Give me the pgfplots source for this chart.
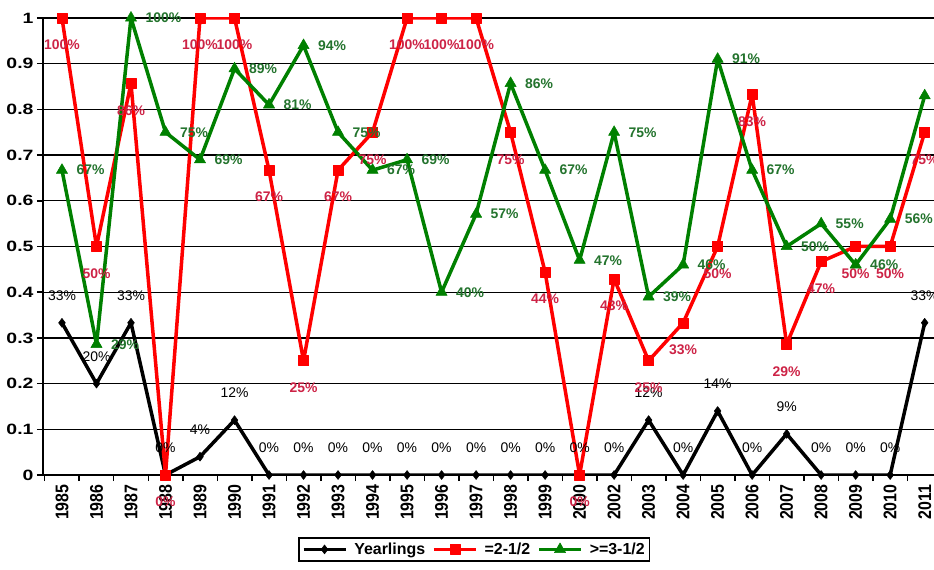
\documentclass[border=0pt]{standalone}
\usepackage{fontspec}
\setmainfont{Liberation Sans}
\newfontfamily\widefont{Liberation Sans}[FakeStretch=1.3]
\usepackage{pgfplots}
\pgfplotsset{compat=1.18}
\usetikzlibrary{calc}

\definecolor{lnred}{RGB}{255,0,0}
\definecolor{lngreen}{RGB}{0,128,0}
\definecolor{lbred}{RGB}{205,35,70}
\definecolor{lbgreen}{RGB}{35,115,45}

\begin{document}
\begin{tikzpicture}
\begin{axis}[
  scale only axis, width=891bp, height=457bp,
  xmin=-0.55, xmax=25.27, ymin=0, ymax=1,
  axis x line*=bottom, axis y line*=left,
  axis line style={black, line width=2bp},
  ytick={0,0.1,0.2,0.3,0.4,0.5,0.6,0.7,0.8,0.9,1},
  ymajorgrids, grid style={black, line width=1.3bp},
  xtick={-0.5,0.5,...,24.5}, xticklabels={},
  extra x ticks={0,1,...,25},
  extra x tick labels={1985,1986,1987,1988,1989,1990,1991,1992,1993,1994,1995,1996,1997,1998,1999,2000,2002,2003,2004,2005,2006,2007,2008,2009,2010,2011},
  extra x tick style={major tick length=0pt, grid=none},
  tick align=outside, major tick length=6bp,
  tick style={black, line width=1.5bp},
  x tick label style={rotate=90, anchor=east, xshift=-6bp, yscale=1.15, font=\bfseries\fontsize{16}{17}\selectfont},
  y tick label style={font=\widefont\bfseries\fontsize{15}{16}\selectfont},
  /pgf/number format/assume math mode=true,
  legend columns=3,
  legend style={at={(0.484,-0.136)}, anchor=north, draw=black, line width=1.5bp,
    font=\bfseries\fontsize{16}{18}\selectfont, column sep=5bp, inner sep=3bp},
  legend image code/.code={\draw[#1, mark repeat=2, mark phase=2] plot coordinates {(0bp,0bp) (21bp,0bp) (42bp,0bp)};},
  every axis plot/.append style={line width=3.5bp, line join=round},
  nodes near coords, point meta=explicit symbolic,
]
% Yearlings
\addplot[black, mark=diamond*, mark size=4.5bp, mark options={line width=0.5bp},
  every node near coord/.append style={anchor=center, yshift=27bp, text=black, font=\fontsize{14}{15}\selectfont}]
coordinates {
(0,0.333)[33\%] (1,0.2)[20\%] (2,0.333)[33\%] (3,0)[0\%] (4,0.04)[4\%] (5,0.12)[12\%]
(6,0)[0\%] (7,0)[0\%] (8,0)[0\%] (9,0)[0\%] (10,0)[0\%] (11,0)[0\%] (12,0)[0\%]
(13,0)[0\%] (14,0)[0\%] (15,0)[0\%] (16,0)[0\%] (17,0.12)[12\%] (18,0)[0\%]
(19,0.14)[14\%] (20,0)[0\%] (21,0.09)[9\%] (22,0)[0\%] (23,0)[0\%] (24,0)[0\%] (25,0.333)[33\%]
};
% =2-1/2
\addplot[lnred, mark=square*, mark size=5bp, mark options={line width=0.5bp},
  every node near coord/.append style={anchor=center, yshift=-27bp, text=lbred, font=\bfseries\fontsize{14}{15}\selectfont}]
coordinates {
(0,1)[100\%] (1,0.5)[50\%] (2,0.857)[86\%] (3,0)[0\%] (4,1)[100\%] (5,1)[100\%]
(6,0.667)[67\%] (7,0.25)[25\%] (8,0.667)[67\%] (9,0.75)[75\%] (10,1)[100\%] (11,1)[100\%]
(12,1)[100\%] (13,0.75)[75\%] (14,0.444)[44\%] (15,0)[0\%] (16,0.429)[43\%] (17,0.25)[25\%]
(18,0.333)[33\%] (19,0.5)[50\%] (20,0.833)[83\%] (21,0.286)[29\%] (22,0.467)[47\%]
(23,0.5)[50\%] (24,0.5)[50\%] (25,0.75)[75\%]
};
% >=3-1/2
\addplot[lngreen, mark=triangle*, mark size=6.5bp, mark options={line width=0.5bp},
  every node near coord/.append style={anchor=west, xshift=11bp, text=lbgreen, font=\bfseries\fontsize{14}{15}\selectfont}]
coordinates {
(0,0.667)[67\%] (1,0.286)[29\%] (2,1)[100\%] (3,0.75)[75\%] (4,0.69)[69\%] (5,0.889)[89\%]
(6,0.81)[81\%] (7,0.94)[94\%] (8,0.75)[75\%] (9,0.667)[67\%] (10,0.69)[69\%] (11,0.4)[40\%]
(12,0.571)[57\%] (13,0.857)[86\%] (14,0.667)[67\%] (15,0.47)[47\%] (16,0.75)[75\%]
(17,0.39)[39\%] (18,0.46)[46\%] (19,0.91)[91\%] (20,0.667)[67\%] (21,0.5)[50\%]
(22,0.55)[55\%] (23,0.46)[46\%] (24,0.56)[56\%] (25,0.83)[83\%]
};
\legend{Yearlings,=2-1/2,>=3-1/2}
\end{axis}
\pgfresetboundingbox
\path ($(current axis.south west)+(-43bp,-95bp)$) rectangle ($(current axis.north east)+(0bp,18bp)$);
\end{tikzpicture}
\end{document}
